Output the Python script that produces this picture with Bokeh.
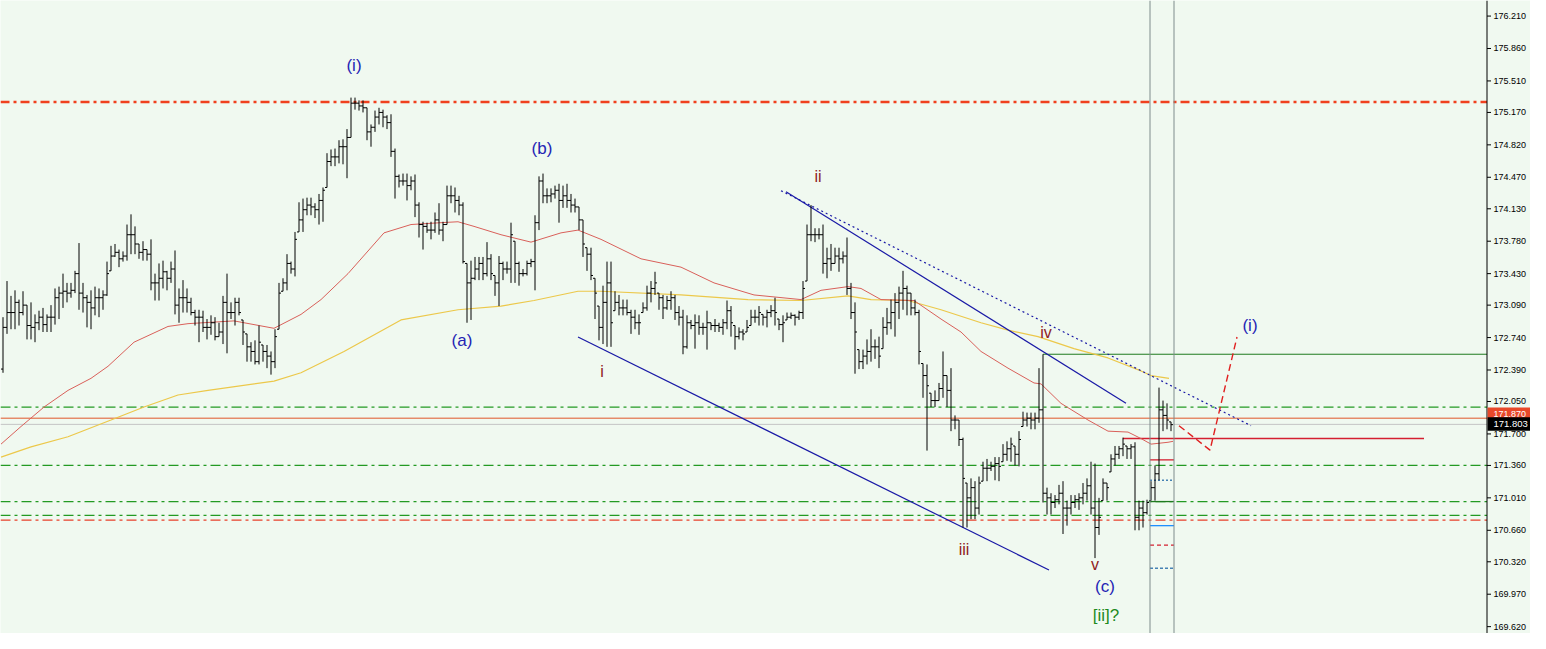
from bokeh.plotting import figure
from bokeh.models import Range1d, Span
from bokeh.core.properties import value
from bokeh.embed import file_html
from bokeh.resources import INLINE

# ---------------- data ----------------
highs = [
    172.96, 173.35, 173.19, 173.25, 173.15, 173.24, 173.09, 173.12, 172.99, 173.03,
    173.06, 172.99, 173.09, 173.27, 173.29, 173.43, 173.33, 173.33, 173.46, 173.76,
    173.33, 173.20, 173.25, 173.29, 173.27, 173.25, 173.56, 173.73, 173.75, 173.69,
    173.67, 173.96, 174.07, 173.94, 173.75, 173.78, 173.69, 173.80, 173.43, 173.54,
    173.57, 173.46, 173.56, 173.68, 173.27, 173.36, 173.27, 173.17, 173.04, 173.04,
    173.03, 172.94, 172.98, 172.96, 172.90, 173.19, 173.43, 173.12, 173.17, 173.17,
    172.93, 172.78, 172.69, 172.71, 172.87, 172.66, 172.66, 172.59, 172.83, 173.33,
    173.38, 173.64, 173.56, 173.88, 174.20, 174.24, 174.25, 174.25, 174.19, 174.29,
    174.36, 174.73, 174.77, 174.78, 174.87, 174.88, 174.99, 175.33, 175.33, 175.30,
    175.30, 175.22, 175.04, 175.19, 175.22, 175.20, 175.14, 175.15, 174.78, 174.50,
    174.51, 174.51, 174.48, 174.50, 174.20, 173.99, 173.98, 173.99, 174.09, 174.19,
    173.99, 174.38, 174.38, 174.36, 174.27, 174.20, 173.54, 173.57, 173.61, 173.61,
    173.61, 173.77, 173.64, 173.41, 173.62, 173.56, 173.56, 173.98, 173.78, 173.56,
    173.48, 173.57, 173.59, 174.06, 174.48, 174.51, 174.35, 174.35, 174.38, 174.40,
    174.38, 174.40, 174.29, 174.24, 174.15, 174.01, 173.71, 173.71, 173.38, 173.08,
    173.30, 173.56, 173.56, 173.24, 173.20, 173.15, 173.15, 173.04, 173.04, 172.99,
    173.12, 173.30, 173.35, 173.45, 173.22, 173.20, 173.19, 173.24, 173.20, 173.08,
    173.04, 172.98, 172.93, 172.99, 172.98, 172.90, 173.03, 172.90, 172.94, 172.90,
    172.94, 173.14, 173.08, 172.87, 172.85, 172.83, 172.93, 173.04, 173.04, 173.08,
    172.99, 173.04, 173.09, 173.17, 172.94, 172.98, 173.01, 173.01, 172.99, 173.03,
    173.35, 173.96, 174.17, 173.92, 173.92, 173.96, 173.71, 173.75, 173.71, 173.71,
    173.67, 173.82, 173.33, 173.12, 172.61, 172.61, 172.72, 172.83, 172.72, 172.75,
    172.96, 173.06, 173.15, 173.22, 173.29, 173.46, 173.30, 173.22, 173.15, 173.04,
    172.46, 172.45, 172.14, 172.17, 172.25, 172.59, 172.33, 172.41, 171.90, 171.85,
    171.66, 171.17, 171.22, 171.19, 171.24, 171.40, 171.43, 171.40, 171.45, 171.45,
    171.59, 171.62, 171.66, 171.57, 171.73, 171.94, 171.93, 171.93, 171.93, 172.41,
    172.56, 171.12, 171.06, 171.04, 171.15, 171.19, 170.98, 171.04, 171.04, 171.06,
    171.17, 171.22, 171.40, 171.38, 171.01, 171.22, 171.17, 171.48, 171.57, 171.57,
    171.66, 171.57, 171.59, 171.61, 170.98, 170.98, 170.99, 171.19, 171.36, 172.20,
    172.06, 172.03, 171.83,
]
lows = [
    172.36, 172.78, 172.83, 172.83, 172.87, 172.98, 172.72, 172.72, 172.69, 172.82,
    172.80, 172.80, 172.80, 172.88, 172.94, 173.06, 173.12, 173.17, 173.22, 173.04,
    173.01, 172.85, 172.83, 172.98, 172.96, 173.04, 173.19, 173.46, 173.61, 173.50,
    173.56, 173.57, 173.64, 173.64, 173.59, 173.57, 173.57, 173.25, 173.14, 173.14,
    173.27, 173.25, 173.33, 172.99, 172.90, 173.01, 173.01, 172.98, 172.87, 172.69,
    172.80, 172.72, 172.77, 172.71, 172.75, 172.67, 172.57, 172.94, 172.87, 172.98,
    172.66, 172.48, 172.48, 172.45, 172.45, 172.48, 172.41, 172.34, 172.41, 172.83,
    173.24, 173.25, 173.43, 173.40, 173.88, 173.88, 174.06, 174.06, 174.03, 173.96,
    173.99, 174.36, 174.59, 174.59, 174.62, 174.61, 174.46, 174.90, 175.20, 175.19,
    175.17, 174.87, 174.80, 174.96, 175.04, 175.01, 174.99, 174.69, 174.24, 174.36,
    174.38, 174.22, 174.33, 174.04, 173.82, 173.69, 173.87, 173.80, 173.87, 173.85,
    173.78, 173.96, 174.19, 174.09, 174.06, 173.54, 172.90, 172.93, 173.36, 173.36,
    173.36, 173.40, 173.36, 173.19, 173.08, 173.36, 173.43, 173.33, 173.33, 173.30,
    173.40, 173.41, 173.50, 173.25, 173.90, 174.19, 174.19, 174.20, 174.24, 173.98,
    174.14, 174.14, 174.09, 174.09, 173.90, 173.61, 173.46, 173.36, 172.94, 172.71,
    172.67, 172.64, 172.64, 173.03, 172.98, 172.98, 172.98, 172.78, 172.83, 172.77,
    173.01, 173.03, 173.12, 173.20, 173.04, 172.94, 173.04, 173.04, 172.93, 172.87,
    172.56, 172.62, 172.83, 172.62, 172.77, 172.77, 172.61, 172.82, 172.80, 172.80,
    172.77, 172.83, 172.75, 172.61, 172.72, 172.71, 172.80, 172.87, 172.90, 172.87,
    172.87, 172.85, 172.96, 172.87, 172.82, 172.69, 172.93, 172.94, 172.87, 172.93,
    172.94, 173.35, 173.78, 173.77, 173.80, 173.43, 173.38, 173.46, 173.54, 173.45,
    173.54, 173.20, 172.94, 172.35, 172.40, 172.40, 172.45, 172.48, 172.51, 172.41,
    172.62, 172.77, 172.83, 172.75, 172.94, 173.04, 172.98, 172.98, 172.98, 172.45,
    172.09, 171.52, 171.99, 171.99, 172.06, 172.09, 171.99, 171.73, 171.75, 171.57,
    170.69, 170.69, 170.78, 170.78, 170.83, 171.19, 171.19, 171.30, 171.20, 171.19,
    171.40, 171.41, 171.40, 171.36, 171.35, 171.78, 171.78, 171.75, 171.75, 171.82,
    170.96, 170.83, 170.83, 170.90, 170.94, 170.62, 170.71, 170.83, 170.90, 170.88,
    170.94, 170.98, 170.83, 170.36, 170.61, 170.98, 170.98, 171.29, 171.36, 171.43,
    171.46, 171.43, 171.43, 170.66, 170.66, 170.69, 170.83, 170.98, 170.98, 171.20,
    171.73, 171.75, 171.73,
]
closes = [
    172.85, 173.01, 173.01, 173.12, 173.01, 173.09, 172.87, 172.85, 172.90, 172.96,
    172.88, 172.96, 172.96, 173.17, 173.22, 173.24, 173.22, 173.25, 173.43, 173.22,
    173.17, 173.12, 173.06, 173.17, 173.17, 173.20, 173.43, 173.62, 173.66, 173.59,
    173.62, 173.85, 173.85, 173.75, 173.66, 173.69, 173.64, 173.33, 173.33, 173.38,
    173.45, 173.38, 173.48, 173.09, 173.17, 173.17, 173.12, 173.01, 172.96, 172.96,
    172.85, 172.85, 172.90, 172.75, 172.80, 173.12, 173.01, 173.01, 173.12, 173.01,
    172.80, 172.64, 172.59, 172.48, 172.69, 172.59, 172.54, 172.48, 172.75, 173.22,
    173.33, 173.54, 173.48, 173.80, 174.01, 174.12, 174.17, 174.15, 174.12, 174.22,
    174.33, 174.64, 174.69, 174.69, 174.80, 174.80, 174.90, 175.27, 175.27, 175.24,
    175.22, 174.96, 175.01, 175.12, 175.17, 175.12, 175.06, 174.75, 174.48, 174.43,
    174.43, 174.38, 174.43, 174.17, 173.96, 173.94, 173.90, 173.90, 174.01, 173.90,
    173.96, 174.27, 174.27, 174.22, 174.17, 173.56, 173.33, 173.38, 173.48, 173.54,
    173.43, 173.59, 173.43, 173.33, 173.54, 173.48, 173.48, 173.85, 173.54, 173.43,
    173.43, 173.54, 173.56, 173.98, 174.43, 174.27, 174.27, 174.29, 174.33, 174.22,
    174.27, 174.22, 174.17, 174.15, 174.01, 173.75, 173.64, 173.41, 173.22, 172.85,
    173.12, 173.33, 172.90, 173.12, 173.06, 173.06, 173.01, 172.96, 172.90, 172.90,
    173.06, 173.22, 173.27, 173.33, 173.17, 173.06, 173.14, 173.17, 173.01, 172.96,
    172.64, 172.90, 172.87, 172.90, 172.85, 172.85, 172.90, 172.87, 172.87, 172.85,
    172.90, 173.03, 172.90, 172.75, 172.80, 172.78, 172.85, 172.96, 172.96, 173.01,
    172.96, 173.01, 173.03, 173.01, 172.88, 172.90, 172.96, 172.98, 172.96, 173.01,
    173.27, 173.85, 173.85, 173.85, 173.85, 173.54, 173.59, 173.54, 173.62, 173.59,
    173.62, 173.27, 173.01, 172.80, 172.48, 172.54, 172.59, 172.64, 172.64, 172.54,
    172.85, 172.90, 173.01, 173.12, 173.22, 173.27, 173.22, 173.06, 173.01, 172.59,
    172.33, 172.22, 172.06, 172.06, 172.19, 172.33, 172.17, 171.85, 171.85, 171.64,
    171.22, 171.01, 171.12, 170.90, 171.17, 171.33, 171.33, 171.35, 171.38, 171.35,
    171.48, 171.54, 171.59, 171.48, 171.64, 171.85, 171.87, 171.85, 171.87, 171.96,
    171.06, 171.01, 170.96, 170.99, 171.06, 170.90, 170.90, 170.96, 170.99, 171.01,
    171.06, 171.14, 170.90, 170.69, 170.80, 171.17, 171.12, 171.43, 171.48, 171.54,
    171.59, 171.54, 171.56, 170.80, 170.90, 170.85, 170.96, 171.12, 171.27, 171.96,
    171.90, 171.85, 171.80,
]
first_open = 172.40

# moving averages (bar position, price)
ma_red_x = [-0.5, 4.5, 10.25, 16.25, 22, 26.25, 30.25, 32.75, 41.25, 46.25, 57.75, 62.75, 67.75,
            74.5, 79.5, 86.25, 95.25, 102, 109.5, 113.75, 117.75, 124.5, 132, 139.5, 143.75,
            149.5, 159.5, 169.5, 177.75, 187.75, 199.5, 204.5, 211.25, 214.5, 219.5, 227.75,
            234.5, 239.5, 244.5, 251.25, 257.75, 259.5, 264.5, 271.25, 276.25, 281.25, 284.5,
            287, 291.25, 292.5]
ma_red_y = [171.59, 171.78, 171.99, 172.17, 172.30, 172.43, 172.59, 172.69, 172.86, 172.89, 172.92,
            172.88, 172.84, 172.99, 173.15, 173.43, 173.87, 173.96, 173.98, 173.99, 173.94, 173.85,
            173.77, 173.87, 173.90, 173.80, 173.59, 173.50, 173.33, 173.20, 173.15, 173.25, 173.29,
            173.27, 173.15, 173.14, 172.94, 172.80, 172.59, 172.41, 172.25, 172.24, 172.03, 171.85,
            171.73, 171.72, 171.65, 171.59, 171.61, 171.62]
ma_yel_x = [-0.5, 7, 16.25, 27, 35.25, 43.75, 51.25, 67.75, 74.5, 85.25, 99.5, 113.75, 124.5,
            132.75, 143.75, 149.5, 169.5, 186.25, 199.5, 211.25, 217, 226.25, 234.5, 244.5,
            251.25, 258.75, 267.75, 276.25, 284.5, 287, 291.5]
ma_yel_y = [171.45, 171.56, 171.67, 171.85, 171.99, 172.12, 172.17, 172.27, 172.36, 172.59, 172.93,
            173.04, 173.08, 173.14, 173.24, 173.24, 173.20, 173.15, 173.14, 173.19, 173.15, 173.14,
            173.04, 172.90, 172.82, 172.75, 172.62, 172.52, 172.38, 172.33, 172.30]

# trend lines
chan_low_x, chan_low_y = [143.75, 261.5], [172.746, 170.231]
chan_up_x, chan_up_y = [195.75, 280.75], [174.315, 172.031]
chan_dot_x, chan_dot_y = [194.5, 312.0], [174.325, 171.789]
proj_x, proj_y = [294.0, 301.75, 308.5], [171.789, 171.525, 172.746]

# horizontal levels
lvl_top_red = 175.283
lvl_green_dd = [171.99, 171.36, 170.97, 170.82]
lvl_red_dd = 170.77
lvl_orange = 171.87
lvl_bid = 171.803
lvl_green_solid, green_from = 172.56, 260.0
lvl_red_solid, red_from, red_to = 171.65, 280.0, 355.25
vlines = [286.75, 292.75]
seg_levels = [171.42, 171.20, 170.97, 170.71, 170.50, 170.25]

# price scale
price_ticks = [176.21, 175.86, 175.51, 175.17, 174.82, 174.47, 174.13, 173.78, 173.43, 173.09,
               172.74, 172.39, 172.05, 171.70, 171.36, 171.01, 170.66, 170.32, 169.97, 169.62]
tick_labels = ["176.210", "175.860", "175.510", "175.170", "174.820", "174.470", "174.130",
               "173.780", "173.430", "173.090", "172.740", "172.390", "172.050", "171.700",
               "171.360", "171.010", "170.660", "170.320", "169.970", "169.620"]
orange_label, bid_label = "171.870", "171.803"

wave_text = ["(i)", "(b)", "(a)", "ii", "i", "iv", "iii", "v", "(c)", "[ii]?", "(i)"]
wave_x = [87.75, 134.75, 114.75, 203.75, 149.75, 260.75, 240.25, 273.0, 275.5, 275.75, 311.75]
wave_y = [175.673, 174.778, 172.704, 174.483, 172.378, 172.799, 170.452, 170.294, 170.052,
          169.736, 172.873]

# ---------------- figure ----------------
BG = "#f0f9f0"
BLUE, DRED, GREEN = "#2323b4", "#8e2222", "#1e8a1e"
DDGREEN = "#239a23"
wave_col = [BLUE, BLUE, BLUE, DRED, DRED, DRED, DRED, DRED, BLUE, GREEN, BLUE]
wave_size = ["17px", "17px", "17px", "16px", "16px", "16px", "16px", "16px", "17px", "17px", "17px"]

X0, X1 = -0.625, 381.875          # 4 px per bar over a 1530 px wide frame
AX = 371.0                         # price-scale line
n = len(highs)
xs = list(range(n))
opens = [first_open] + [min(max(closes[i - 1], lows[i]), highs[i]) for i in range(1, n)]

p = figure(width=1530, height=633, x_range=Range1d(X0, X1), y_range=Range1d(169.546, 176.378),
           x_axis_location=None, y_axis_location=None, toolbar_location=None,
           output_backend="svg", min_border=0, background_fill_color=BG,
           border_fill_color=BG, outline_line_color=None)
p.grid.visible = False

def hline(level, color, width=1.0, dash="solid", x_from=X0, x_to=AX):
    p.segment(x0=[x_from], y0=[level], x1=[x_to], y1=[level], line_color=color,
              line_width=width, line_dash=dash)

# horizontal levels
hline(lvl_top_red, "#f0401e", 2.5, "9 4 3 4")
for lv in lvl_green_dd:
    hline(lv, DDGREEN, 1.2, "10 4 3 4")
hline(lvl_red_dd, "#e8402a", 1.2, "10 4 3 4")
hline(lvl_orange, "#e0562a", 1)
hline(lvl_bid, "#c4c4c4", 1)
hline(lvl_green_solid, "#1f7a1f", 1, x_from=green_from)
hline(lvl_red_solid, "#d42030", 1.6, x_from=red_from, x_to=red_to)
for v in vlines:
    p.add_layout(Span(location=v, dimension="height", line_color="#7f8c8c", line_width=1))

seg_colors = ["#d42030", "#4682b4", "#1f7a1f", "#1e90ff", "#d42030", "#4682b4"]
seg_dash = ["solid", "2 2", "solid", "solid", "4 3", "3 2"]
for lv, c, d in zip(seg_levels, seg_colors, seg_dash):
    hline(lv, c, 1.3, d, x_from=vlines[0], x_to=vlines[1])

# moving averages
p.line(ma_yel_x, ma_yel_y, line_color="#ecc84a", line_width=1.2)
p.line(ma_red_x, ma_red_y, line_color="#d9605a", line_width=1)

# trend lines
p.line(chan_low_x, chan_low_y, line_color="#1a1aa6", line_width=1.2)
p.line(chan_up_x, chan_up_y, line_color="#1a1aa6", line_width=1.2)
p.line(chan_dot_x, chan_dot_y, line_color="#1a1aa6", line_width=1.2, line_dash="2 3")
p.line(proj_x, proj_y, line_color="#e02020", line_width=1.4, line_dash="7 4")

# OHLC bars
p.segment(x0=xs, y0=lows, x1=xs, y1=highs, line_color="black", line_width=1)
p.segment(x0=[x - 0.5 for x in xs], y0=opens, x1=xs, y1=opens, line_color="black", line_width=1)
p.segment(x0=xs, y0=closes, x1=[x + 0.5 for x in xs], y1=closes, line_color="black", line_width=1)

# wave labels
p.text(x=wave_x, y=wave_y, text=wave_text, text_color=wave_col, text_font_size=wave_size,
       text_font=value("Liberation Sans"), text_align="center", text_baseline="middle")

# price scale on the right
p.segment(x0=[AX], y0=[169.546], x1=[AX], y1=[176.378], line_color="black", line_width=1)
p.segment(x0=[AX] * len(price_ticks), y0=price_ticks, x1=[AX + 1.0] * len(price_ticks),
          y1=price_ticks, line_color="black", line_width=1)
p.text(x=[AX + 1.6] * len(price_ticks), y=price_ticks, text=tick_labels, text_color="black",
       text_font=value("Liberation Sans"), text_font_size=value("9px"),
       text_align="left", text_baseline="middle")

# highlighted prices on the scale
p.quad(left=[AX + 0.15], right=[X1], top=[171.985], bottom=[171.85], fill_color="#e8482a",
       line_color=None)
p.text(x=[AX + 1.6], y=[171.917], text=[orange_label], text_color="white",
       text_font=value("Liberation Sans"), text_font_size=value("9px"),
       text_align="left", text_baseline="middle")
p.quad(left=[AX + 0.15], right=[X1], top=[171.88], bottom=[171.735], fill_color="black",
       line_color=None)
p.text(x=[AX + 1.6], y=[171.808], text=[bid_label], text_color="white",
       text_font=value("Liberation Sans"), text_font_size=value("9.5px"),
       text_align="left", text_baseline="middle")

open("out.html", "w").write(file_html(p, INLINE))
